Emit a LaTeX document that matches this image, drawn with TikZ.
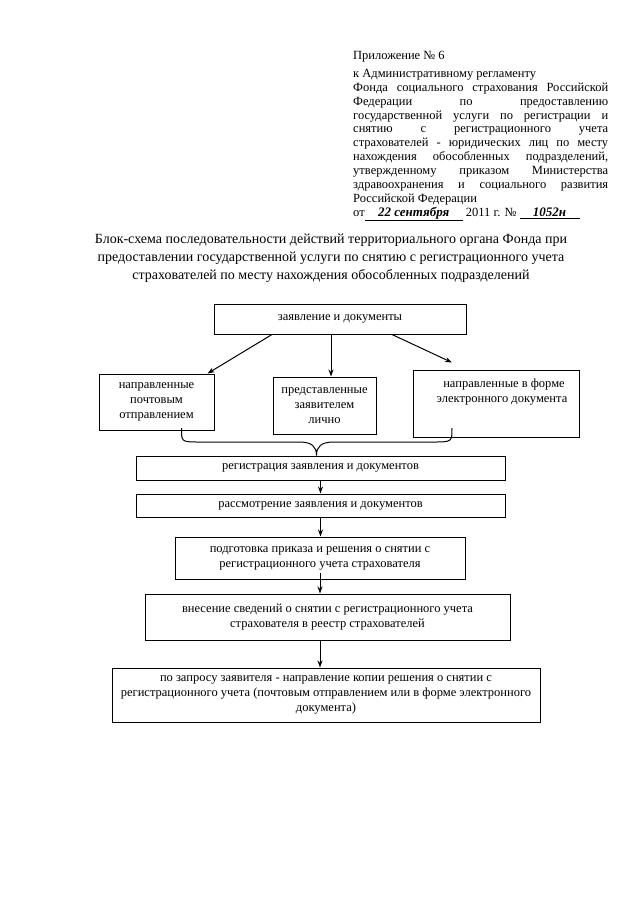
\documentclass[tikz,border=0pt]{standalone}
\usepackage{fontspec}
\setmainfont{Liberation Serif}
\usetikzlibrary{arrows.meta,positioning}

\tikzset{
  box/.style={draw, line width=1pt, inner sep=1pt, align=center,
    font=\fontsize{12.5}{14.8}\selectfont},
  flow/.style={-{Stealth[length=7pt,width=5pt]}, line width=1pt},
}
\newcommand{\hwtext}{\fontsize{13}{13}\selectfont\bfseries\itshape}

\begin{document}
\begin{tikzpicture}[x=1pt,y=-1pt]
  \fill[white] (0,0) rectangle (640,905);
  \useasboundingbox (0,0) rectangle (640,905);

  % header
  \node[anchor=north west, inner sep=0pt, text width=255pt, align=justify,
    font=\fontsize{12.5}{13.9}\selectfont] (pril) at (353,51) {Приложение №~6\\[4pt]
    к Административному регламенту\\
    Фонда социального страхования Российской\linebreak
    Федерации по предоставлению\linebreak
    государственной услуги по регистрации и\linebreak
    снятию с регистрационного учета\linebreak
    страхователей - юридических лиц по месту\linebreak
    нахождения обособленных подразделений,\linebreak
    утвержденному приказом Министерства\linebreak
    здравоохранения и социального развития\linebreak
    Российской Федерации\\
    от\underline{\hbox to 98pt{\hss\hwtext 22 сентября\hss}} 2011~г. №~\underline{\hbox to 60pt{\hss\hwtext 1052н\hss}}};

  % title
  \node[align=center, font=\fontsize{14}{18}\selectfont] (title) at (331,258)
    {Блок-схема последовательности действий территориального органа Фонда при\\
     предоставлении государственной услуги по снятию с регистрационного учета\\
     страхователей по месту нахождения обособленных подразделений};

  % boxes
  \node[box, minimum width=252pt, minimum height=30pt] (zd) at (340,319) {заявление и документы};
  \node[box, minimum width=115pt, minimum height=56pt] (pocht) at (156.5,402) {направленные\\почтовым\\отправлением};
  \node[box, minimum width=103pt, minimum height=57pt] (lich) at (324.5,405.5) {представленные\\заявителем\\лично};
  \node[box, minimum width=166pt, minimum height=67pt] (el) at (496,403.5) {\hspace*{16pt}направленные в форме\\\hspace*{12pt}электронного документа\\[11.5pt]\mbox{}};
  \node[box, minimum width=369pt, minimum height=24pt] (reg) at (320.5,468) {регистрация заявления и документов};
  \node[box, minimum width=369pt, minimum height=23pt] (ras) at (320.5,505.5) {рассмотрение заявления и документов};
  \node[box, minimum width=290pt, minimum height=42pt] (pod) at (320,558) {подготовка приказа и решения о снятии с\\регистрационного учета страхователя};
  \node[box, minimum width=365pt, minimum height=46pt] (vnes) at (327.5,617) {внесение сведений о снятии с регистрационного учета\\страхователя в реестр страхователей};
  \node[box, minimum width=428pt, minimum height=54pt] (zap) at (326,695) {по запросу заявителя - направление копии решения о снятии с\\регистрационного учета (почтовым отправлением или в форме электронного\\документа)};

  % connectors
  \draw[flow] ([xshift=-68pt]zd.south) -- ([xshift=51pt]pocht.north);
  \draw[flow] ([xshift=-9pt]zd.south) -- ([xshift=-9pt]zd.south |- lich.north);
  \draw[flow] ([xshift=52pt]zd.south) -- ([xshift=-44pt,yshift=7pt]el.north);

  \coordinate (bl) at (181.5,428);
  \coordinate (br) at (452,428);
  \coordinate (tip) at ([xshift=-4pt]reg.north);
  \draw[line width=1pt] (bl) .. controls +(0,13) and +(-16,0) .. (197,442) -- (299,442)
    .. controls +(13,0) and +(0,-9) .. (tip)
    .. controls +(0,-9) and +(-13,0) .. (334,442) -- (436,442)
    .. controls +(16,0) and +(0,13) .. (br);

  \draw[flow] (reg.south) -- (ras.north);
  \draw[flow] (ras.south) -- (ras.south |- pod.north);
  \draw[flow] ([yshift=7pt]pod.south) -- (pod.south |- vnes.north);
  \draw[flow] (pod.south |- vnes.south) -- (pod.south |- zap.north);
\end{tikzpicture}
\end{document}
